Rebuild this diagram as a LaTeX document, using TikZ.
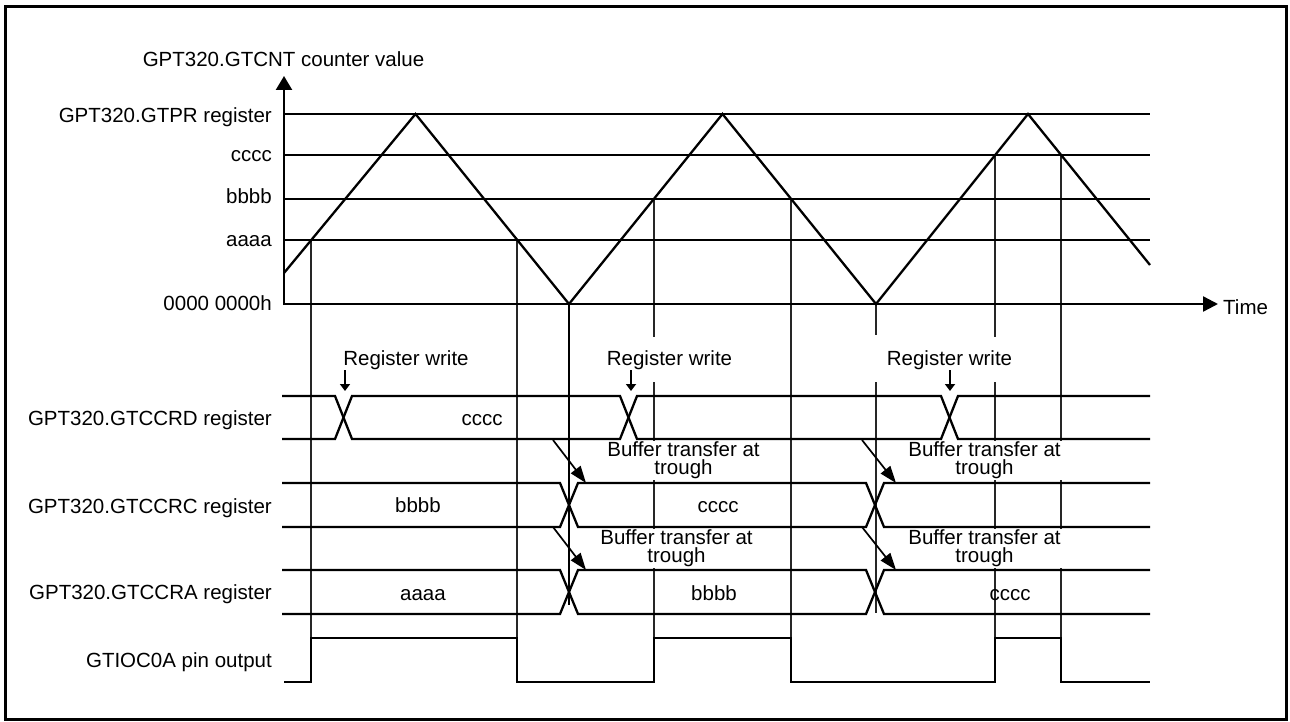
\documentclass[tikz,border=0pt]{standalone}
\usepackage{fontspec}
\setmainfont{Liberation Sans}
\usetikzlibrary{arrows.meta}
\begin{document}
\begin{tikzpicture}[x=1pt,y=-1pt,
  every node/.style={font=\fontsize{20.5}{24}\selectfont, inner sep=0pt},
  lvl/.style={line width=2.3pt},
  wave/.style={line width=2.3pt, line join=miter},
  guide/.style={line width=1.1pt, black!85},
  trough/.style={line width=2.4pt},
  lbl/.style={anchor=base east},
  val/.style={anchor=base},
  wr/.style={anchor=base, fill=white, inner xsep=10pt, inner ysep=13pt},
  buf/.style={anchor=base, fill=white, inner xsep=2pt, inner ysep=0pt, font=\fontsize{20.5}{18}\selectfont},
  wrarrow/.style={line width=2pt, -{Triangle[length=7pt,width=10pt]}},
  bufarrow/.style={line width=1.7pt, -{Triangle[length=17pt,width=12pt]}},
]
\useasboundingbox (0,0) rectangle (1290,722);
\draw[line width=3pt] (5,7) rectangle (1286,719);

% guide lines
\draw[guide] (311,240) -- (311,682);
\draw[guide] (517,240) -- (517,682);
\draw[guide] (654,199) -- (654,682);
\draw[guide] (791,199) -- (791,682);
\draw[guide] (995,155) -- (995,682);
\draw[guide] (1061,155) -- (1061,682);
\draw[guide] (876,304) -- (876,335);
\draw[guide] (876,382) -- (876,613);
\draw[trough] (569,304) -- (569,605);

% level lines
\draw[lvl] (284,114) -- (1150,114);
\draw[lvl] (284,155) -- (1150,155);
\draw[lvl] (284,199) -- (1150,199);
\draw[lvl] (284,240) -- (1150,240);

% axes
\draw[line width=2.3pt, -{Triangle[length=14pt,width=16pt]}] (284,305) -- (284,76);
\draw[line width=2.3pt, -{Triangle[length=15pt,width=15pt]}] (283,304) -- (1218,304);

% counter triangle
\draw[wave] (284,273) -- (415.5,114) -- (569,304) -- (722.5,114) -- (876,304) -- (1028,114) -- (1150,265);

% GTCCRD
\draw[wave] (282,396) -- (335,396) -- (352,439) -- (620,439) -- (637,396) -- (941,396) -- (958,439) -- (1150,439);
\draw[wave] (282,439) -- (335,439) -- (352,396) -- (620,396) -- (637,439) -- (941,439) -- (958,396) -- (1150,396);
% GTCCRC
\draw[wave] (282,483) -- (560,483) -- (578,527) -- (866,527) -- (884,483) -- (1150,483);
\draw[wave] (282,527) -- (560,527) -- (578,483) -- (866,483) -- (884,527) -- (1150,527);
% GTCCRA
\draw[wave] (282,570) -- (560,570) -- (578,614) -- (866,614) -- (884,570) -- (1150,570);
\draw[wave] (282,614) -- (560,614) -- (578,570) -- (866,570) -- (884,614) -- (1150,614);
% GTIOC0A
\draw[wave] (284,682) -- (311,682) -- (311,638) -- (517,638) -- (517,682) -- (654,682) -- (654,638) -- (791,638) -- (791,682) -- (995,682) -- (995,638) -- (1061,638) -- (1061,682) -- (1150,682);

% axis labels
\node[anchor=base] (ylab) at (283.5,67) {GPT320.GTCNT counter value};
\node[anchor=base west] (tlab) at (1223,314) {Time};
\node[lbl] (lgtpr) at (272,123) {GPT320.GTPR register};
\node[lbl] (lc) at (272,162) {cccc};
\node[lbl] (lb) at (272,204) {bbbb};
\node[lbl] (la) at (272,247) {aaaa};
\node[lbl] (lz) at (272,310) {0000 0000h};

% row labels
\node[lbl] (rd) at (272,425) {GPT320.GTCCRD register};
\node[lbl] (rc) at (272,513) {GPT320.GTCCRC register};
\node[lbl] (ra) at (272,599) {GPT320.GTCCRA register};
\node[lbl] (rp) at (272,667) {GTIOC0A pin output};

% row values
\node[val] (vd1) at (482,425) {cccc};
\node[val] (vc1) at (418,512) {bbbb};
\node[val] (vc2) at (718,512) {cccc};
\node[val] (va1) at (423,600) {aaaa};
\node[val] (va2) at (714,600) {bbbb};
\node[val] (va3) at (1010,600) {cccc};

% register write
\node[wr] (w1) at (406,365) {Register write};
\node[wr] (w2) at (669.5,365) {Register write};
\node[wr] (w3) at (949.5,365) {Register write};
\coordinate (w1a) at (345,370); \coordinate (x1) at (345,391);
\coordinate (w2a) at (631,370); \coordinate (x2) at (631,391);
\coordinate (w3a) at (950,370); \coordinate (x3) at (950,391);
\draw[wrarrow] (w1a) -- (x1);
\draw[wrarrow] (w2a) -- (x2);
\draw[wrarrow] (w3a) -- (x3);

% buffer transfer
\node[buf] (b1) at (683.5,456) {\begin{tabular}[t]{@{}c@{}}Buffer transfer at\\[-1.6pt]trough\end{tabular}};
\node[buf] (b2) at (676.5,544) {\begin{tabular}[t]{@{}c@{}}Buffer transfer at\\[-1.6pt]trough\end{tabular}};
\node[buf] (b3) at (984.5,456) {\begin{tabular}[t]{@{}c@{}}Buffer transfer at\\[-1.6pt]trough\end{tabular}};
\node[buf] (b4) at (984.5,544) {\begin{tabular}[t]{@{}c@{}}Buffer transfer at\\[-1.6pt]trough\end{tabular}};
\coordinate (s1) at (553,440); \coordinate (e1) at (586,483);
\coordinate (s2) at (553,527); \coordinate (e2) at (586,570);
\coordinate (s3) at (862,440); \coordinate (e3) at (896,483);
\coordinate (s4) at (862,527); \coordinate (e4) at (896,570);
\draw[bufarrow] (s1) -- (e1);
\draw[bufarrow] (s2) -- (e2);
\draw[bufarrow] (s3) -- (e3);
\draw[bufarrow] (s4) -- (e4);
\end{tikzpicture}
\end{document}
